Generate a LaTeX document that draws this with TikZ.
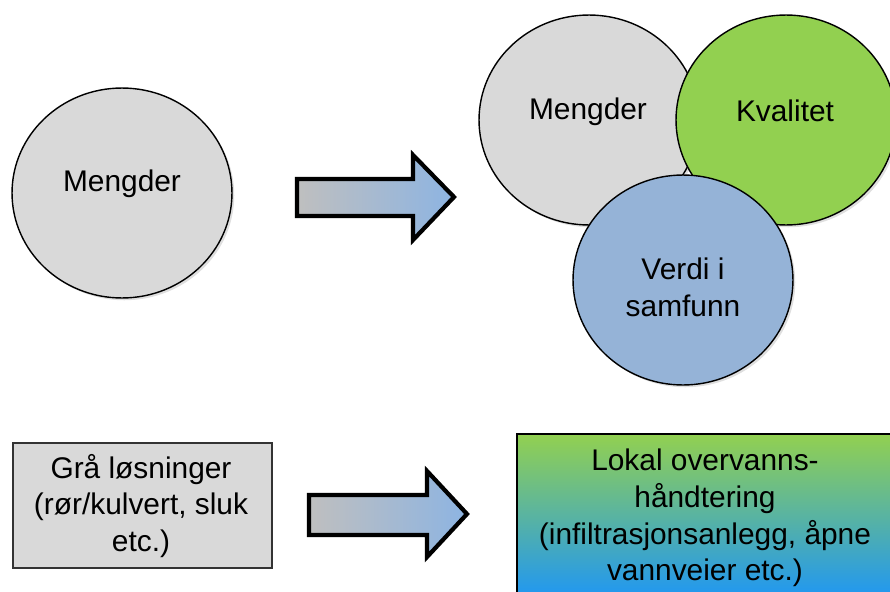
\documentclass[tikz,border=0pt]{standalone}
\usepackage{fontspec}
\setmainfont{Liberation Sans}
\usepackage{tikz}
\usetikzlibrary{shapes.geometric,shadows}
\definecolor{mgray}{HTML}{D9D9D9}
\definecolor{mgreen}{HTML}{92D050}
\definecolor{mblue}{HTML}{95B3D7}
\definecolor{agray}{HTML}{BFBFBF}
\definecolor{ablue}{HTML}{8DB4E2}
\definecolor{bblue}{HTML}{1E96F5}

\begin{document}
\begin{tikzpicture}[x=0.02cm,y=-0.02cm,font=\fontsize{17}{20.9}\selectfont,
  sirkel/.style={ellipse,draw,line width=0.8pt,minimum width=4.4cm,minimum height=4.2cm,
    drop shadow={shadow xshift=1.3pt,shadow yshift=-1.3pt,opacity=0.25}},
  boks/.style={rectangle,draw,line width=0.8pt,inner sep=0pt},
  tekst/.style={align=center,inner sep=0pt},
  pil/.style={draw,line width=2.4pt,line join=miter,left color=agray,right color=ablue}]
\useasboundingbox (0,0) rectangle (890,592);
\node[sirkel,fill=mgray] (mengder) at (122,193) {};
\node[tekst] (mengdertxt) at (122,184) {Mengder};
\draw[pil] (297,179) -- (413,179) -- (413,155) -- (454,197) -- (413,240) -- (413,216) -- (297,216) -- cycle;
\node[sirkel,fill=mgray] (mengder2) at (589,120) {};
\node[sirkel,fill=mgreen] (kvalitet) at (786,120) {};
\node[sirkel,fill=mblue] (verdi) at (683,280) {};
\node[tekst] (mengder2txt) at (588,112) {Mengder};
\node[tekst] (kvalitettxt) at (785,111) {Kvalitet};
\node[tekst] (verditxt) at (683,287) {Verdi i\\samfunn};
\node[boks,draw=black!80,fill=mgray,minimum width=5.18cm,minimum height=2.5cm] (graa) at (142.5,505.5) {};
\node[tekst] (graatxt) at (141,506) {Grå løsninger\\(rør/kulvert, sluk\\etc.)};
\draw[pil] (309,495) -- (427,495) -- (427,471) -- (467,514) -- (427,557) -- (427,535) -- (309,535) -- cycle;
\node[boks,top color=mgreen,bottom color=bblue,minimum width=7.56cm,minimum height=3.32cm] (lod) at (706,517) {};
\node[tekst] (lodtxt) at (705,518) {Lokal overvanns-\\håndtering\\(infiltrasjonsanlegg, åpne\\vannveier etc.)};
\end{tikzpicture}
\end{document}
